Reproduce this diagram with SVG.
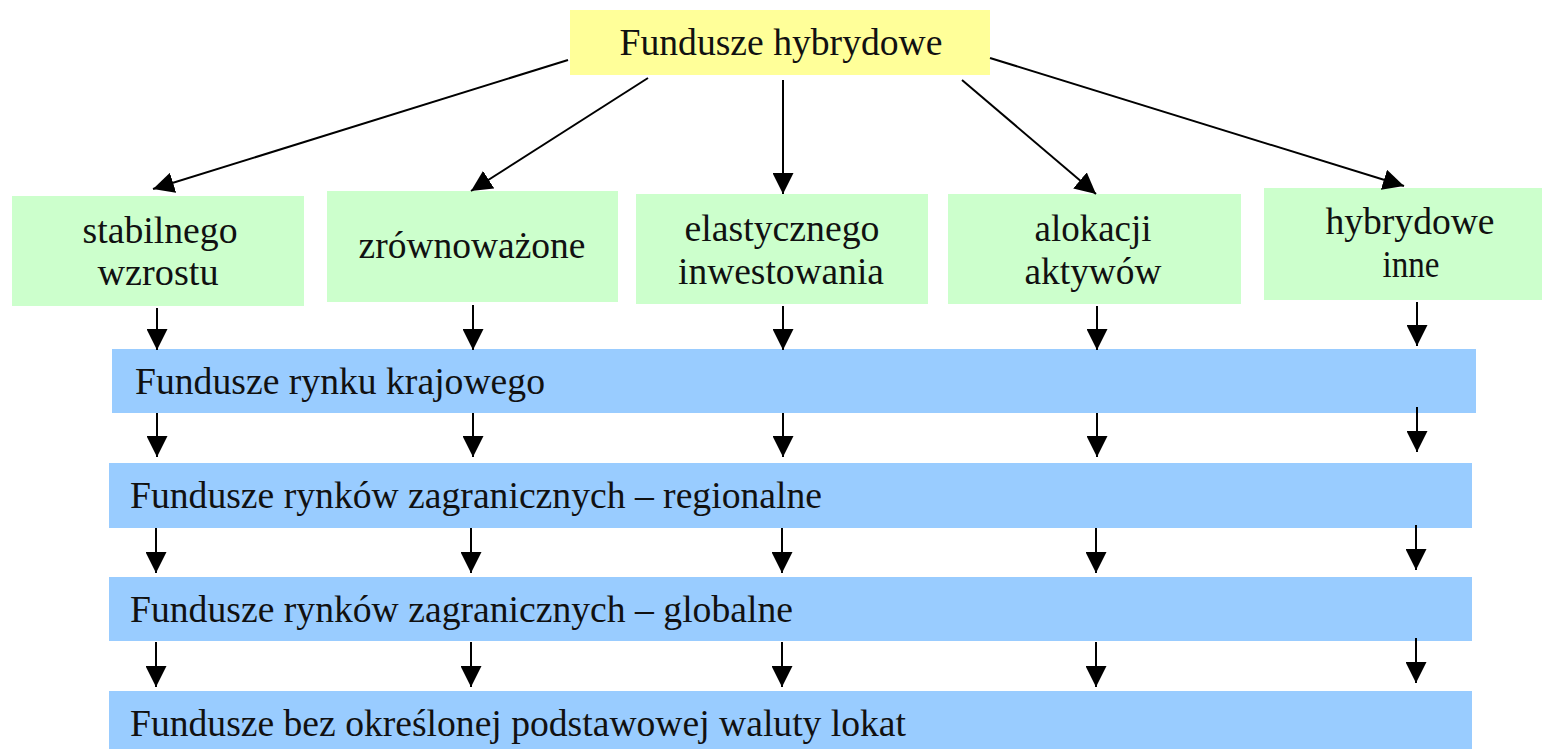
<svg xmlns="http://www.w3.org/2000/svg" width="1542" height="749" viewBox="0 0 1542 749">
<style>
.t{font-family:"Liberation Serif","Times New Roman",serif;font-size:37px;fill:#111;}
.c{text-anchor:middle;}
.y{fill:#FFFF99;}
.g{fill:#CCFFCC;}
.b{fill:#99CCFF;}
.e{stroke:#000;stroke-width:2;fill:none;marker-end:url(#ah);}
</style>
<defs>
<marker id="ah" markerUnits="userSpaceOnUse" markerWidth="21" markerHeight="21" refX="21" refY="10.5" orient="auto" viewBox="0 0 21 21">
<path d="M0,0 L21,10.5 L0,21 z" fill="#000"/>
</marker>
</defs>
<rect width="1542" height="749" fill="#fff"/>
<g id="n-top"><rect class="y" x="570" y="10" width="420" height="65"/><text class="t c" x="781" y="55" textLength="323" lengthAdjust="spacingAndGlyphs">Fundusze hybrydowe</text></g>
<g id="n-stab"><rect class="g" x="12" y="196" width="292" height="110"/><text class="t c" x="160" y="243" textLength="155" lengthAdjust="spacingAndGlyphs">stabilnego</text><text class="t c" x="158" y="285" textLength="121" lengthAdjust="spacingAndGlyphs">wzrostu</text></g>
<g id="n-zrow"><rect class="g" x="327" y="191" width="291" height="111"/><text class="t c" x="472" y="258" textLength="227" lengthAdjust="spacingAndGlyphs">zrównoważone</text></g>
<g id="n-elas"><rect class="g" x="636" y="194" width="292" height="110"/><text class="t c" x="782" y="241" textLength="195" lengthAdjust="spacingAndGlyphs">elastycznego</text><text class="t c" x="781" y="284" textLength="206" lengthAdjust="spacingAndGlyphs">inwestowania</text></g>
<g id="n-alok"><rect class="g" x="948" y="194" width="293" height="110"/><text class="t c" x="1093" y="241" textLength="117" lengthAdjust="spacingAndGlyphs">alokacji</text><text class="t c" x="1093" y="284" textLength="137" lengthAdjust="spacingAndGlyphs">aktywów</text></g>
<g id="n-hyb"><rect class="g" x="1264" y="188" width="278" height="112"/><text class="t c" x="1410" y="234" textLength="169" lengthAdjust="spacingAndGlyphs">hybrydowe</text><text class="t c" x="1411" y="277" textLength="57" lengthAdjust="spacingAndGlyphs">inne</text></g>
<g id="n-kraj"><rect class="b" x="112" y="349" width="1364" height="64"/><text class="t" x="135" y="394" textLength="410" lengthAdjust="spacingAndGlyphs">Fundusze rynku krajowego</text></g>
<g id="n-reg"><rect class="b" x="109" y="463" width="1363" height="65"/><text class="t" x="130" y="508" textLength="692" lengthAdjust="spacingAndGlyphs">Fundusze rynków zagranicznych – regionalne</text></g>
<g id="n-glob"><rect class="b" x="109" y="577" width="1363" height="64"/><text class="t" x="130" y="622" textLength="663" lengthAdjust="spacingAndGlyphs">Fundusze rynków zagranicznych – globalne</text></g>
<g id="n-bez"><rect class="b" x="109" y="691" width="1363" height="58"/><text class="t" x="130" y="736" textLength="776" lengthAdjust="spacingAndGlyphs">Fundusze bez określonej podstawowej waluty lokat</text></g>
<g id="connectors">
<line class="e" x1="568" y1="60" x2="153" y2="189"/>
<line class="e" x1="648" y1="78" x2="471" y2="191"/>
<line class="e" x1="783" y1="80" x2="783" y2="194"/>
<line class="e" x1="962" y1="80" x2="1096" y2="194"/>
<line class="e" x1="990" y1="58" x2="1404" y2="186"/>
<line class="e" x1="157" y1="308" x2="157" y2="350"/>
<line class="e" x1="473" y1="305" x2="473" y2="350"/>
<line class="e" x1="783" y1="306" x2="783" y2="350"/>
<line class="e" x1="1097" y1="306" x2="1097" y2="350"/>
<line class="e" x1="1417" y1="302" x2="1417" y2="346"/>
<line class="e" x1="157" y1="413" x2="157" y2="457"/>
<line class="e" x1="473" y1="413" x2="473" y2="457"/>
<line class="e" x1="783" y1="413" x2="783" y2="457"/>
<line class="e" x1="1097" y1="413" x2="1097" y2="457"/>
<line class="e" x1="1417" y1="407" x2="1417" y2="452"/>
<line class="e" x1="156" y1="528" x2="156" y2="573"/>
<line class="e" x1="471" y1="528" x2="471" y2="573"/>
<line class="e" x1="782" y1="528" x2="782" y2="573"/>
<line class="e" x1="1096" y1="528" x2="1096" y2="573"/>
<line class="e" x1="1416" y1="525" x2="1416" y2="570"/>
<line class="e" x1="156" y1="642" x2="156" y2="687"/>
<line class="e" x1="471" y1="642" x2="471" y2="687"/>
<line class="e" x1="782" y1="642" x2="782" y2="687"/>
<line class="e" x1="1096" y1="642" x2="1096" y2="687"/>
<line class="e" x1="1416" y1="638" x2="1416" y2="683"/>
</g>
</svg>
